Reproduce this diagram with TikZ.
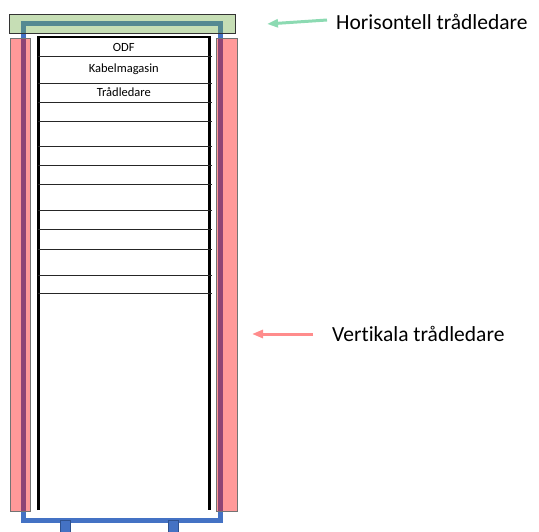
\documentclass[tikz,border=0pt]{standalone}
\usepackage{fontspec}
\setmainfont{Carlito}[Ligatures=NoCommon]
\usetikzlibrary{arrows.meta}

\definecolor{frameblue}{RGB}{68,114,196}
\definecolor{frameedge}{RGB}{47,82,143}
\definecolor{ductgreen}{RGB}{112,173,71}
\definecolor{arrowgreen}{RGB}{140,218,178}
\definecolor{arrowpink}{RGB}{255,140,140}

\tikzset{
  duct/.style={fill opacity=0.4, draw opacity=1, line width=0.6},
  rail/.style={line width=2.6, black},
  shelf/.style={line width=0.8, black!85},
  pointer/.style={line width=3, -{Triangle[length=11,width=8]}},
  racklabel/.style={font=\fontsize{12.5}{14}\selectfont, inner sep=0},
  sidelabel/.style={font=\fontsize{21.5}{24}\selectfont, anchor=west, inner sep=0}
}

\begin{document}
\begin{tikzpicture}[x=1pt,y=-1pt]
\useasboundingbox (0,0) rectangle (539,531);
% kabelram
\draw[line width=5, frameblue] (23,23) rectangle (220,520);
\fill[frameblue, draw=frameedge, line width=0.6] (60.5,520) rectangle (70.5,534);
\fill[frameblue, draw=frameedge, line width=0.6] (168,520) rectangle (178,534);
% tradledare
\filldraw[duct, fill=ductgreen, draw=black!80] (9.5,14) rectangle (235,33);
\filldraw[duct, fill=red, draw=black!55] (10,38) rectangle (30.5,511);
\filldraw[duct, fill=red, draw=black!55] (216,38) rectangle (237,511);
% rack
\draw[rail] (38.3,510) -- (38.3,37) -- (209.3,37) -- (209.3,510);
\foreach \y in {56,83,102,121,146,165,184,210,229,249,275,293}
  \draw[shelf] (38.3,\y) -- (211.5,\y);
\node[racklabel] (odf) at (123.8,47) {ODF};
\node[racklabel] (kabelmag) at (123.8,69.5) {Kabelmagasin};
\node[racklabel] (tradl) at (123.8,92.5) {Trådledare};
% forklaringar
\node[sidelabel] (horis) at (336,22) {Horisontell trådledare};
\node[sidelabel] (vert) at (332,334) {Vertikala trådledare};
\coordinate (horisend) at (267,24);
\coordinate (vertend) at (252,334);
\draw[pointer, arrowgreen] ([xshift=-9,yshift=2]horis.west) -- (horisend);
\draw[pointer, arrowpink] ([xshift=-19]vert.west) -- (vertend);
\end{tikzpicture}
\end{document}
